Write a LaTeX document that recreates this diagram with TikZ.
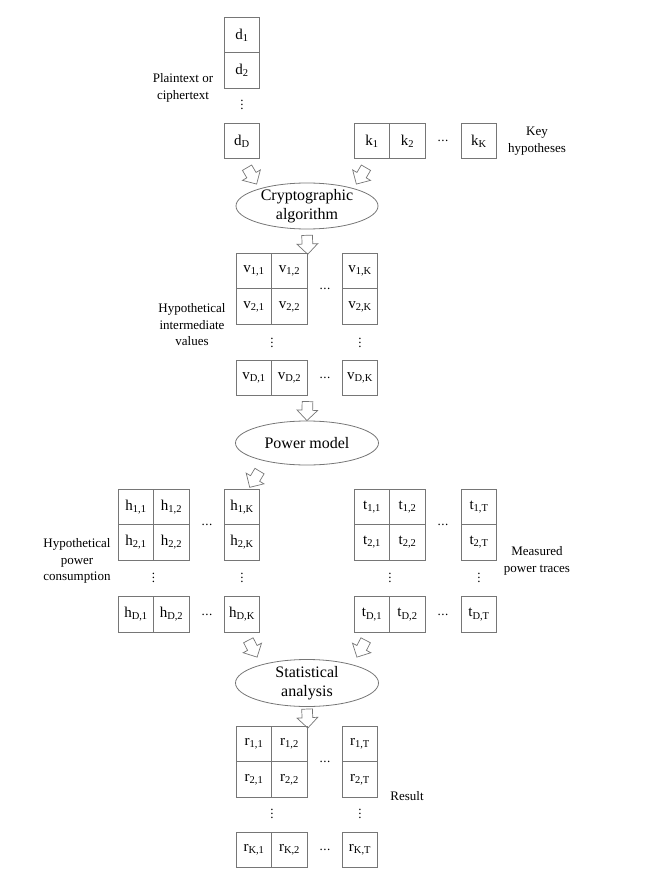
\documentclass[tikz,border=0pt]{standalone}
\usepackage{fontspec}
\setmainfont{Liberation Serif}
\usetikzlibrary{shapes.geometric,shapes.arrows,calc}
\definecolor{linec}{RGB}{118,118,118}
\newcommand\myhdots{.\kern0.6pt.\kern0.6pt.}
\newcommand\myvdots{\vbox{\baselineskip4pt\lineskiplimit0pt\hbox{.}\hbox{.}\hbox{.}}}
\begin{document}
\begin{tikzpicture}[x=1pt,y=-1pt,
  cell/.style={draw=linec, line width=0.8pt, minimum width=35.5pt, minimum height=35.5pt, inner sep=0pt, font=\fontsize{15}{17}\selectfont},
  dotsn/.style={inner sep=0pt, font=\fontsize{13}{14}\selectfont},
  proc/.style={ellipse, draw=linec, line width=0.8pt, inner sep=-8pt, align=center, font=\fontsize{16}{19.5}\selectfont},
  lab/.style={align=center, font=\fontsize{13}{16.5}\selectfont},
  blk/.style={single arrow, draw=linec, line width=0.7pt, inner xsep=0pt, inner ysep=5pt,
    single arrow head extend=5pt, single arrow head indent=0pt, minimum height=19pt}
]
\useasboundingbox (0,0) rectangle (653,885);

% inputs
\node[cell] (d1) at (242,35) {d\textsubscript{1}};
\node[cell] (d2) at (242,70.5) {d\textsubscript{2}};
\node[dotsn] (dv) at (242,105) {\myvdots};
\node[cell] (dD) at (242,141) {d\textsubscript{D}};
\node[lab] (lp) at (183,88) {Plaintext or\\ciphertext};

\node[cell] (k1) at (372,141) {k\textsubscript{1}};
\node[cell] (k2) at (407.5,141) {k\textsubscript{2}};
\node[dotsn] (kh) at (443,141) {\myhdots};
\node[cell] (kK) at (479,141) {k\textsubscript{K}};
\node[lab] (lk) at (537,141) {Key\\hypotheses};

% cryptographic algorithm
\node[proc, minimum width=142pt, minimum height=46pt] (cr) at (307,206) {Cryptographic\\algorithm};

% v matrix
\node[cell] (v11) at (254,271) {v\textsubscript{1,1}};
\node[cell] (v12) at (289.5,271) {v\textsubscript{1,2}};
\node[cell] (v1K) at (360,271) {v\textsubscript{1,K}};
\node[cell] (v21) at (254,306.5) {v\textsubscript{2,1}};
\node[cell] (v22) at (289.5,306.5) {v\textsubscript{2,2}};
\node[cell] (v2K) at (360,306.5) {v\textsubscript{2,K}};
\node[dotsn] (vh1) at (325,289) {\myhdots};
\node[dotsn] (vv1) at (272,343) {\myvdots};
\node[dotsn] (vv2) at (360,343) {\myvdots};
\node[cell] (vD1) at (254,378) {v\textsubscript{D,1}};
\node[cell] (vD2) at (289.5,378) {v\textsubscript{D,2}};
\node[dotsn] (vh2) at (325,378) {\myhdots};
\node[cell] (vDK) at (360,378) {v\textsubscript{D,K}};
\node[lab] (lv) at (192,325) {Hypothetical\\intermediate\\values};

% power model
\node[proc, minimum width=143pt, minimum height=44pt] (pm) at (307,443) {Power model};

% h matrix
\node[cell] (h11) at (136,507) {h\textsubscript{1,1}};
\node[cell] (h12) at (171.5,507) {h\textsubscript{1,2}};
\node[cell] (h1K) at (242,507) {h\textsubscript{1,K}};
\node[cell] (h21) at (136,542.5) {h\textsubscript{2,1}};
\node[cell] (h22) at (171.5,542.5) {h\textsubscript{2,2}};
\node[cell] (h2K) at (242,542.5) {h\textsubscript{2,K}};
\node[dotsn] (hh1) at (207,525) {\myhdots};
\node[dotsn] (hv1) at (153.5,578) {\myvdots};
\node[dotsn] (hv2) at (242,578) {\myvdots};
\node[cell] (hD1) at (136,614.5) {h\textsubscript{D,1}};
\node[cell] (hD2) at (171.5,614.5) {h\textsubscript{D,2}};
\node[dotsn] (hh2) at (207,614.5) {\myhdots};
\node[cell] (hDK) at (242,614.5) {h\textsubscript{D,K}};
\node[lab] (lh) at (77,561) {Hypothetical\\power\\consumption};

% t matrix
\node[cell] (t11) at (372,507) {t\textsubscript{1,1}};
\node[cell] (t12) at (407.5,507) {t\textsubscript{1,2}};
\node[cell] (t1T) at (479,507) {t\textsubscript{1,T}};
\node[cell] (t21) at (372,542.5) {t\textsubscript{2,1}};
\node[cell] (t22) at (407.5,542.5) {t\textsubscript{2,2}};
\node[cell] (t2T) at (479,542.5) {t\textsubscript{2,T}};
\node[dotsn] (th1) at (443,525) {\myhdots};
\node[dotsn] (tv1) at (390,578) {\myvdots};
\node[dotsn] (tv2) at (479,578) {\myvdots};
\node[cell] (tD1) at (372,614.5) {t\textsubscript{D,1}};
\node[cell] (tD2) at (407.5,614.5) {t\textsubscript{D,2}};
\node[dotsn] (th2) at (443,614.5) {\myhdots};
\node[cell] (tDT) at (479,614.5) {t\textsubscript{D,T}};
\node[lab] (lt) at (537,561) {Measured\\power traces};

% statistical analysis
\node[proc, minimum width=143pt, minimum height=47pt] (sa) at (307,683) {Statistical\\analysis};

% r matrix
\node[cell] (r11) at (254,744) {r\textsubscript{1,1}};
\node[cell] (r12) at (289.5,744) {r\textsubscript{1,2}};
\node[cell] (r1T) at (360,744) {r\textsubscript{1,T}};
\node[cell] (r21) at (254,779.5) {r\textsubscript{2,1}};
\node[cell] (r22) at (289.5,779.5) {r\textsubscript{2,2}};
\node[cell] (r2T) at (360,779.5) {r\textsubscript{2,T}};
\node[dotsn] (rh1) at (325,762) {\myhdots};
\node[dotsn] (rv1) at (272,814) {\myvdots};
\node[dotsn] (rv2) at (360,814) {\myvdots};
\node[cell] (rK1) at (254,850) {r\textsubscript{K,1}};
\node[cell] (rK2) at (289.5,850) {r\textsubscript{K,2}};
\node[dotsn] (rh2) at (325,850) {\myhdots};
\node[cell] (rKT) at (360,850) {r\textsubscript{K,T}};
\node[lab] (lr) at (407,796) {Result};

% block arrows
\coordinate (a1s) at ($(dD.south)+(3,5)$);
\coordinate (a1e) at ($(cr.center)+(-51,-23)$);
\coordinate (a2s) at ($(k1.south)+(-4,5)$);
\coordinate (a2e) at ($(cr.center)+(50,-23)$);
\coordinate (a3s) at ($(cr.south)+(0,3)$);
\coordinate (a3e) at ($(v12.north east)+(0,-1)$);
\coordinate (a4s) at ($(vD2.south east)+(0,2)$);
\coordinate (a4e) at ($(pm.north)+(0,-2)$);
\coordinate (a5s) at ($(pm.center)+(-45,24)$);
\coordinate (a5e) at ($(h1K.north)+(8,-2)$);
\coordinate (a6s) at ($(hDK.south)+(5,5)$);
\coordinate (a6e) at ($(sa.center)+(-51,-28)$);
\coordinate (a7s) at ($(tD1.south)+(-5,5)$);
\coordinate (a7e) at ($(sa.center)+(51,-28)$);
\coordinate (a8s) at ($(sa.south)+(0,1)$);
\coordinate (a8e) at ($(r12.north east)+(0,-2)$);

\foreach \s/\e in {a1s/a1e,a2s/a2e,a3s/a3e,a4s/a4e,a5s/a5e,a6s/a6e,a7s/a7e,a8s/a8e}
  \path (\s) -- (\e) node[blk, midway, sloped, allow upside down] {};
\end{tikzpicture}
\end{document}
